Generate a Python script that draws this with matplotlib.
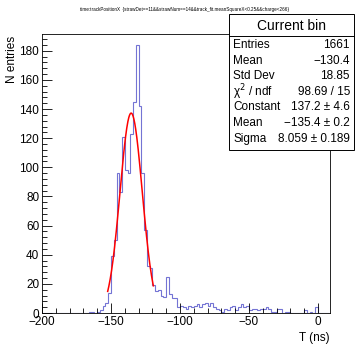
import numpy as np
import matplotlib
matplotlib.use("Agg")
import matplotlib.pyplot as plt
from matplotlib.patches import Rectangle
from matplotlib.ticker import MultipleLocator

plt.rcParams['font.family'] = ['Liberation Sans', 'DejaVu Sans']

# histogram: 2 ns bins from -200 to 8
bin_lo, bin_hi, bin_w = -200, 8, 2
counts = [0] * 17 + [
    1, 1, 0, 1, 2, 5, 7, 14, 39, 50,          # -166 .. -146
    96, 83, 121, 98, 96, 123, 145, 184,       # -146 .. -130
    142, 96, 57, 32, 31, 19, 15, 16, 12, 11,  # -130 .. -110
    25, 13, 10, 10, 4,                        # -110 .. -100
    5, 4, 3, 5, 4, 5, 6, 4, 6, 7,             # -100 .. -80
    5, 7, 4, 3, 2, 1, 3, 2, 4, 5,             # -80 .. -60
    2, 4, 6, 4, 5, 2, 3, 3, 2, 3,             # -60 .. -40
    3, 4, 3, 1, 1, 3, 3, 0, 1, 1,             # -40 .. -20
    0, 0, 0, 0, 0, 2, 0, 1, 0, 4,             # -20 .. 0
    0, 0, 0, 0,                               # 0 .. 8
]

# gaussian fit result
fit_const, fit_mean, fit_sigma = 137.2, -135.4, 8.059
fit_range = (-152.4, -119.3)

title = "time:trackPositionX  {strawDet==11&&strawNum==14&&track_fit.meanSquareX<0.25&&charge<266}"
stats_rows = [
    ("Entries", "1661"),
    ("Mean", "\u2212130.4"),
    ("Std Dev", "18.85"),
    ("\u03c7$^2$ / ndf", "98.69 / 15"),
    ("Constant", "137.2 \u00b1 4.6"),
    ("Mean", "\u2212135.4 \u00b1 0.2"),
    ("Sigma", "8.059 \u00b1 0.189"),
]

W, H = 355, 345
fig = plt.figure(figsize=(W / 100, H / 100), dpi=100)
ax = fig.add_axes([42 / W, 1 - 313 / H, (330 - 42) / W, (313 - 34) / H])

edges = np.arange(bin_lo, bin_hi + bin_w, bin_w)
ax.stairs(counts, edges, color='#7474d4', linewidth=0.8)

xf = np.linspace(fit_range[0], fit_range[1], 200)
yf = fit_const * np.exp(-0.5 * ((xf - fit_mean) / fit_sigma) ** 2)
ax.plot(xf, yf, color='red', linewidth=1.1)

ax.set_xlim(-200, 8.7)
ax.set_ylim(0, 191.5)
ax.xaxis.set_major_locator(MultipleLocator(50))
ax.xaxis.set_minor_locator(MultipleLocator(10))
ax.yaxis.set_major_locator(MultipleLocator(20))
ax.yaxis.set_minor_locator(MultipleLocator(4))
ax.tick_params(which='both', direction='in', labelsize=8.5, width=0.6, pad=2)
ax.tick_params(which='major', length=7)
ax.tick_params(which='minor', length=3.5)
for s in ax.spines.values():
    s.set_linewidth(0.6)

fig.text(330 / W, 1 - 338 / H, "T (ns)", ha='right', va='center', fontsize=8.5)
fig.text(12 / W, 1 - 36 / H, "N entries", ha='center', va='top', rotation=90, fontsize=8.5)
fig.text(185 / W, 1 - 9 / H, title, ha='center', va='center', fontsize=3.3)

# stats box
bx0, bx1, by0, by1 = 229, 354, 14, 150
fig.patches.append(Rectangle((bx0 / W, 1 - by1 / H), (bx1 - bx0) / W, (by1 - by0) / H,
                             transform=fig.transFigure, facecolor='white',
                             edgecolor='black', linewidth=0.7, zorder=5))
fig.lines.append(plt.Line2D([bx0 / W, bx1 / W], [1 - 36 / H, 1 - 36 / H],
                            transform=fig.transFigure, color='black', linewidth=0.7, zorder=6))
fig.text((bx0 + bx1) / 2 / W, 1 - 25.5 / H, "Current bin", ha='center', va='center',
         fontsize=10, zorder=7)
for i, (lab, val) in enumerate(stats_rows):
    yy = 1 - (45 + i * 15.6) / H
    fig.text((bx0 + 4) / W, yy, lab, ha='left', va='center', fontsize=8.5, zorder=7)
    fig.text((bx1 - 4) / W, yy, val, ha='right', va='center', fontsize=8.5, zorder=7)

fig.savefig("out.png", dpi=100)
